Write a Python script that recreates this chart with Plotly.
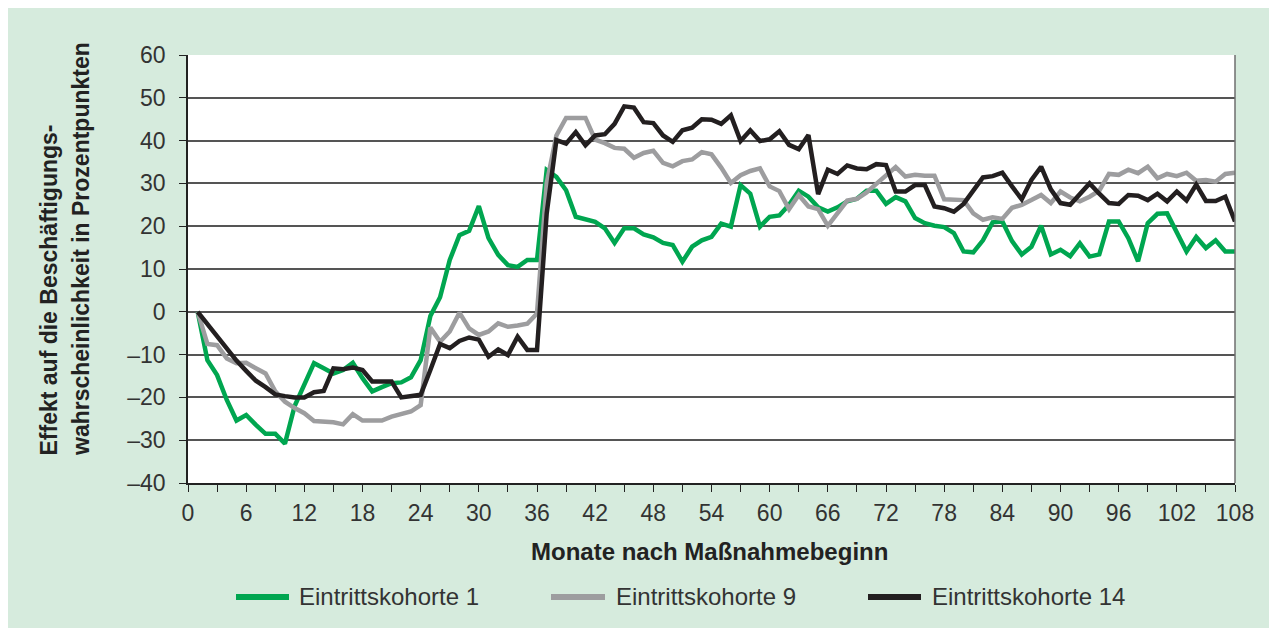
import plotly.graph_objects as go

months = list(range(1, 109))

kohorte_1 = [0, -11.3, -14.8, -20.6, -25.4, -24.1, -26.4, -28.5, -28.5, -30.8,
             -22, -17, -12, -13.2, -14.4, -13.6, -11.9, -15.5, -18.6, -17.6,
             -16.7, -16.5, -15.3, -11.3, -1, 3.4, 12.1, 17.9, 18.9, 24.7,
             17.2, 13.3, 10.9, 10.5, 12.1, 12.1, 33.1, 31.5, 28.4, 22.2,
             21.6, 21, 19.5, 16.1, 19.5, 19.5, 18.1, 17.4, 16.1, 15.6,
             11.7, 15.2, 16.7, 17.5, 20.6, 19.9, 29.6, 27.6, 19.9, 22.2,
             22.5, 25, 28.3, 26.9, 24.4, 23.4, 24.4, 25.8, 26.4, 28.3,
             28.3, 25.2, 26.8, 25.8, 21.9, 20.7, 20.1, 19.8, 18.4, 14.1,
             13.9, 16.7, 20.9, 21.1, 16.5, 13.4, 15.2, 20.1, 13.4, 14.5,
             13, 16, 12.9, 13.4, 21.1, 21.1, 17.2, 11.8, 20.7, 22.9,
             23, 18.8, 14.1, 17.5, 14.9, 16.7, 14.1, 14.1]

kohorte_9 = [0, -7.5, -7.8, -10.9, -12, -11.9, -13.2, -14.4, -18.6, -21,
             -22.5, -23.7, -25.5, -25.6, -25.8, -26.3, -23.9, -25.4, -25.4, -25.4,
             -24.5, -23.9, -23.3, -21.8, -3.7, -7, -4.6, -0.2, -3.9, -5.4,
             -4.6, -2.7, -3.5, -3.2, -2.8, -0.4, 30, 41.2, 45.3, 45.3,
             45.3, 40.2, 39.4, 38.3, 38.1, 36, 37.1, 37.6, 34.8, 34,
             35.2, 35.6, 37.3, 36.8, 33.7, 30.1, 31.9, 32.9, 33.5, 29.3,
             28.2, 24, 27.3, 24.6, 24, 20.1, 23.2, 26, 26.4, 27.9,
             29.9, 32, 33.8, 31.6, 32, 31.8, 31.8, 26.3, 26.1, 26.1,
             23, 21.5, 22.1, 21.7, 24.3, 25, 26.1, 27.3, 25.4, 28.1,
             26.7, 25.8, 26.9, 28.3, 32.2, 32, 33.2, 32.4, 33.9, 31.2,
             32.2, 31.7, 32.5, 30.6, 30.8, 30.4, 32.2, 32.5]

kohorte_14 = [0, -2.8, -5.7, -8.7, -11.4, -13.8, -16.1, -17.6, -19.3, -19.7,
              -20, -20, -18.8, -18.5, -13.2, -13.4, -13, -13.6, -16.3, -16.3,
              -16.3, -20, -19.7, -19.4, -13.6, -7.5, -8.5, -6.8, -6, -6.5,
              -10.5, -8.8, -10.1, -5.8, -8.9, -8.9, 23, 40.1, 39.3, 42,
              38.9, 41.2, 41.5, 43.9, 48, 47.7, 44.3, 44.1, 41.2, 39.7,
              42.4, 43, 45, 44.9, 43.9, 45.9, 39.9, 42.4, 39.9, 40.3,
              42.2, 39, 38, 41.3, 27.5, 33.2, 32.2, 34.2, 33.5, 33.3,
              34.5, 34.3, 28.1, 28.1, 29.6, 29.6, 24.6, 24.2, 23.4, 25.2,
              28.3, 31.4, 31.7, 32.5, 29.3, 26.3, 30.8, 33.9, 28.6, 25.4,
              25, 27.6, 30, 27.6, 25.4, 25.2, 27.3, 27.1, 26.1, 27.6,
              25.8, 28.1, 26, 29.7, 25.9, 25.9, 26.9, 21.1]

series_names = ["Eintrittskohorte 1", "Eintrittskohorte 9", "Eintrittskohorte 14"]
series_colors = ["#00a650", "#9d9d9f", "#231f20"]
series_values = [kohorte_1, kohorte_9, kohorte_14]

x_tick_values = list(range(0, 109, 6))
y_tick_values = list(range(-40, 61, 10))

y_title_line1 = "Effekt auf die Beschäftigungs-"
y_title_line2 = "wahrscheinlichkeit in Prozentpunkten"
x_title = "Monate nach Maßnahmebeginn"

# ---- layout geometry (pixels of the figure; page adds an 8px body offset) ----
OFF = 8
W, H = 1277, 628
L, T = 180, 47
PLOT_RIGHT, PLOT_BOTTOM = 1227, 475
R, B = W - PLOT_RIGHT, H - PLOT_BOTTOM
PW, PH = PLOT_RIGHT - L, PLOT_BOTTOM - T
FONT = "Liberation Sans, Arial, sans-serif"
TXT = "#333333"
TITLE = "#222222"
BG = "#d6ebdd"


def px(xs):
    """screen x -> paper x"""
    return (xs - OFF - L) / PW


def py(ys):
    """screen y -> paper y"""
    return (PLOT_BOTTOM - (ys - OFF)) / PH


fig = go.Figure()
for name, color, vals in zip(series_names, series_colors, series_values):
    fig.add_trace(go.Scatter(x=months, y=vals, mode="lines", name=name,
                             line=dict(color=color, width=4.5),
                             showlegend=False))

shapes = [dict(type="line", xref="paper", yref="paper", x0=1, x1=1, y0=0, y1=1,
               line=dict(color="#6e6e6e", width=1.5))]

annotations = [
    dict(text=y_title_line1, xref="paper", yref="paper", x=px(48), y=py(458),
         xanchor="center", yanchor="bottom", textangle=-90, showarrow=False,
         font=dict(family=FONT, size=23, color=TITLE, weight="bold")),
    dict(text=y_title_line2, xref="paper", yref="paper", x=px(81), y=py(458),
         xanchor="center", yanchor="bottom", textangle=-90, showarrow=False,
         font=dict(family=FONT, size=23, color=TITLE, weight="bold")),
    dict(text=x_title, xref="paper", yref="paper", x=px(709), y=py(551),
         xanchor="center", yanchor="middle", showarrow=False,
         font=dict(family=FONT, size=24, color=TITLE, weight="bold")),
]

# legend drawn as line samples + labels
legend_line_x = [(236, 289), (551, 605), (868, 921)]
legend_text_x = [297, 614, 930]
legend_y = 597
for (x0, x1), tx, name, color in zip(legend_line_x, legend_text_x, series_names, series_colors):
    shapes.append(dict(type="line", xref="paper", yref="paper",
                       x0=px(x0), x1=px(x1), y0=py(legend_y), y1=py(legend_y),
                       line=dict(color=color, width=6)))
    annotations.append(dict(text=name, xref="paper", yref="paper", x=px(tx), y=py(legend_y),
                            xanchor="left", yanchor="middle", showarrow=False,
                            font=dict(family=FONT, size=24, color=TXT)))

fig.update_layout(
    width=W, height=H,
    margin=dict(l=L, r=R, t=T, b=B, pad=0),
    paper_bgcolor=BG, plot_bgcolor="white",
    font=dict(family=FONT, size=23, color=TXT),
    shapes=shapes, annotations=annotations,
    showlegend=False,
)
fig.update_xaxes(range=[0, 108], tickvals=x_tick_values, ticktext=[str(v) for v in x_tick_values],
                 showgrid=False, zeroline=False, showline=True, linecolor="#222", linewidth=1.5,
                 ticks="outside", ticklen=7, tickwidth=1.2, tickcolor="#222",
                 minor=dict(dtick=3, tick0=0, ticks="outside", ticklen=7, tickwidth=1.2, tickcolor="#222"),
                 tickfont=dict(family=FONT, size=23, color=TXT), ticklabelstandoff=2)
fig.update_yaxes(range=[-40, 60], tickvals=y_tick_values,
                 ticktext=[str(v).replace("-", "–") for v in y_tick_values],
                 showgrid=True, gridcolor="#555555", gridwidth=1.5, zeroline=False,
                 showline=True, linecolor="#222", linewidth=1.5,
                 ticks="outside", ticklen=7, tickwidth=1.2, tickcolor="#222",
                 tickfont=dict(family=FONT, size=23, color=TXT), ticklabelstandoff=9)

fig.write_html("out.html")
